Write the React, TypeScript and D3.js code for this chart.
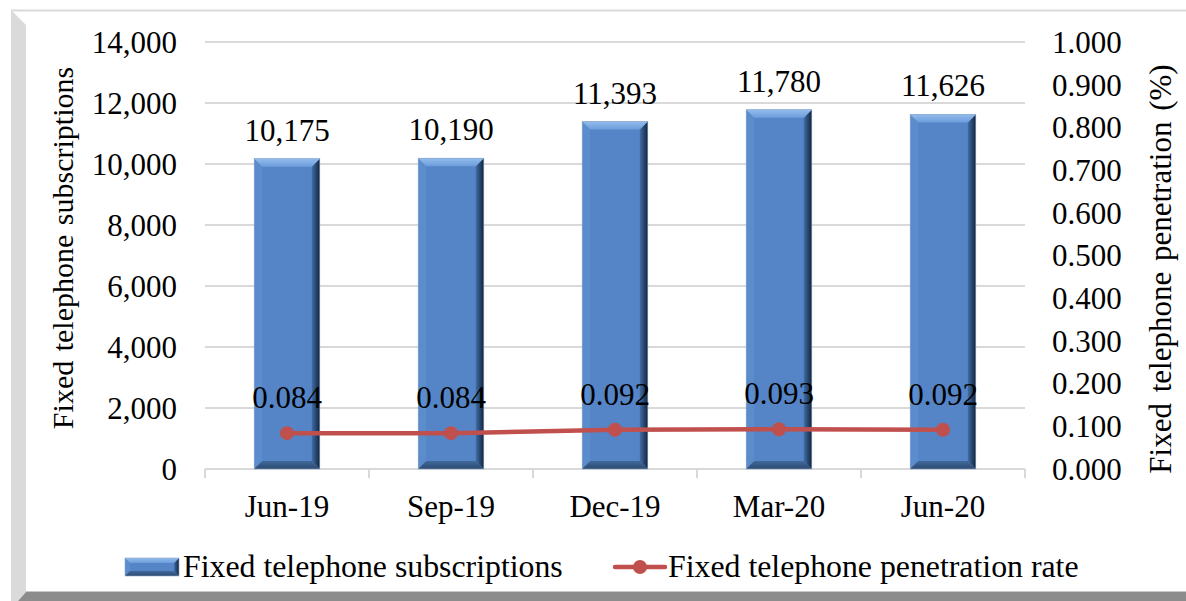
import React from "react";
import * as d3 from "d3";

const categories = ["Jun-19", "Sep-19", "Dec-19", "Mar-20", "Jun-20"];
const subscriptions = [10175, 10190, 11393, 11780, 11626];
const penetration = [0.084, 0.084, 0.092, 0.093, 0.092];
const leftTicks = [0, 2000, 4000, 6000, 8000, 10000, 12000, 14000];
const rightTicks = [0, 0.1, 0.2, 0.3, 0.4, 0.5, 0.6, 0.7, 0.8, 0.9, 1.0];
const seriesNames = ["Fixed telephone subscriptions", "Fixed telephone penetration rate"];
const axisTitles = ["Fixed telephone subscriptions", "Fixed telephone penetration (%)"];

const W = 1186;
const H = 601;
const FONT = "'Liberation Serif', 'Times New Roman', serif";
const FS = 31;

function BevelBar({ x0, x1, y0, y1, b }: { x0: number; x1: number; y0: number; y1: number; b: number }) {
  const pts = (a: number[][]) => a.map((p) => p.join(",")).join(" ");
  return (
    <g>
      <rect x={x0} y={y0} width={x1 - x0} height={y1 - y0} fill="#5585c6" />
      <polygon points={pts([[x0, y0], [x0 + b, y0 + b], [x0 + b, y1 - b], [x0, y1]])} fill="#5b8dcc" />
      <polygon points={pts([[x1, y0], [x1, y1], [x1 - b, y1 - b], [x1 - b, y0 + b]])} fill="url(#rightGrad)" />
      <polygon points={pts([[x0, y1], [x1, y1], [x1 - b, y1 - b], [x0 + b, y1 - b]])} fill="url(#bottomGrad)" />
      <polygon points={pts([[x0, y0], [x1, y0], [x1 - b, y0 + b], [x0 + b, y0 + b]])} fill="url(#topGrad)" />
      <rect x={x0} y={y0} width={x1 - x0} height={y1 - y0} fill="none" stroke="#8fa9cc" strokeWidth={0.6} />
    </g>
  );
}

export default function App() {
  const plotL = 205, plotR = 1025, plotT = 42, plotB = 469;
  const x = d3.scaleBand<string>().domain(categories).range([plotL, plotR]).paddingInner(0).paddingOuter(0);
  const yL = d3.scaleLinear().domain([0, 14000]).range([plotB, plotT]);
  const yR = d3.scaleLinear().domain([0, 1]).range([plotB, plotT]);
  const barW = x.bandwidth() * 0.4;
  const fmtL = d3.format(",");
  const fmtR = d3.format(".3f");
  const line = d3
    .line<number>()
    .x((_, i) => (x(categories[i]) as number) + x.bandwidth() / 2)
    .y((d) => yR(d));

  return (
    <svg width={W} height={H} style={{ position: "absolute", left: 0, top: 0 }} fontFamily={FONT}>
      <defs>
        <linearGradient id="rightGrad" x1="0" x2="1" y1="0" y2="0">
          <stop offset="0" stopColor="#3f6ea8" />
          <stop offset="1" stopColor="#14233a" />
        </linearGradient>
        <linearGradient id="topGrad" x1="0" x2="0" y1="0" y2="1">
          <stop offset="0" stopColor="#93bcec" />
          <stop offset="1" stopColor="#6d9ddb" />
        </linearGradient>
        <linearGradient id="bottomGrad" x1="0" x2="0" y1="0" y2="1">
          <stop offset="0" stopColor="#41699c" />
          <stop offset="1" stopColor="#2c4a70" />
        </linearGradient>
      </defs>
      <rect x={0} y={0} width={W} height={H} fill="#ffffff" />
      {/* frame */}
      <line x1={11} x2={W} y1={10.5} y2={10.5} stroke="#d9d9d9" strokeWidth={2} />
      <polygon points="11,10 26,25 26,592 18,601 11,601" fill="#dadada" />
      <polygon points={`26,592 ${W},592 ${W},601 18,601`} fill="#8c8c8c" />
      <line x1={26} x2={W} y1={591.5} y2={591.5} stroke="#c8c8c8" strokeWidth={1} />

      {/* gridlines */}
      {leftTicks.map((t) => (
        <line key={t} x1={plotL} x2={plotR} y1={yL(t)} y2={yL(t)} stroke="#d9d9d9" strokeWidth={2} />
      ))}
      {/* category ticks */}
      {categories.concat(["end"]).map((c, i) => {
        const xx = i < categories.length ? (x(c) as number) : plotR;
        return <line key={c} x1={xx} x2={xx} y1={plotB} y2={plotB + 9} stroke="#d9d9d9" strokeWidth={2} />;
      })}

      {/* left tick labels */}
      {leftTicks.map((t) => (
        <text key={t} x={177} y={yL(t)} dy="0.35em" textAnchor="end" fontSize={FS} fill="#000">
          {fmtL(t)}
        </text>
      ))}
      {/* right tick labels */}
      {rightTicks.map((t) => (
        <text key={t} x={1052} y={yR(t)} dy="0.35em" textAnchor="start" fontSize={FS} fill="#000">
          {fmtR(t)}
        </text>
      ))}
      {/* axis titles */}
      <text transform="translate(73,248) rotate(-90)" textAnchor="middle" fontSize={30} fill="#000" wordSpacing={2}>
        {axisTitles[0]}
      </text>
      <text transform="translate(1171,269) rotate(-90)" textAnchor="middle" fontSize={FS} fill="#000" wordSpacing={3}>
        {axisTitles[1]}
      </text>

      {/* category labels */}
      {categories.map((c) => (
        <text key={c} x={(x(c) as number) + x.bandwidth() / 2} y={517} textAnchor="middle" fontSize={FS} fill="#000">
          {c}
        </text>
      ))}

      {/* bars */}
      {subscriptions.map((v, i) => {
        const cx = (x(categories[i]) as number) + x.bandwidth() / 2;
        return (
          <g key={i}>
            <BevelBar x0={cx - barW / 2} x1={cx + barW / 2} y0={yL(v)} y1={plotB} b={8} />
            <text x={cx} y={yL(v) - 18} textAnchor="middle" fontSize={FS} fill="#000">
              {fmtL(v)}
            </text>
          </g>
        );
      })}

      {/* line */}
      <path d={line(penetration) || ""} fill="none" stroke="#c0504d" strokeWidth={4.5} />
      {penetration.map((v, i) => {
        const cx = (x(categories[i]) as number) + x.bandwidth() / 2;
        return (
          <g key={i}>
            <circle cx={cx} cy={yR(v)} r={7} fill="#c0504d" />
            <text x={cx} y={yR(v) - 25} textAnchor="middle" fontSize={FS} fill="#000">
              {fmtR(v)}
            </text>
          </g>
        );
      })}

      {/* legend */}
      <BevelBar x0={125} x1={179} y0={558} y1={576} b={5} />
      <text x={183} y={577} fontSize={31.8} fill="#000">
        {seriesNames[0]}
      </text>
      <line x1={615} x2={665} y1={567} y2={567} stroke="#c0504d" strokeWidth={4.5} strokeLinecap="round" />
      <circle cx={640} cy={567} r={7} fill="#c0504d" />
      <text x={668} y={577} fontSize={31.8} fill="#000">
        {seriesNames[1]}
      </text>
    </svg>
  );
}
